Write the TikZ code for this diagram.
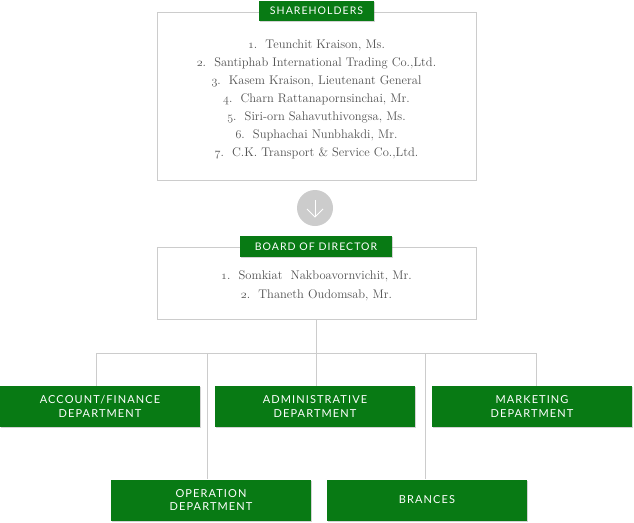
\documentclass[tikz,border=0pt]{standalone}
\usepackage{fontspec}
\newfontfamily\labelfont[LetterSpace=10]{Lato}
\usetikzlibrary{shadows}
\definecolor{boxgreen}{RGB}{8,122,20}
\definecolor{rulegray}{RGB}{204,204,204}
\definecolor{textgray}{RGB}{80,80,80}
\newcommand{\osn}[1]{{\usefont{OML}{cmm}{m}{it}#1}}
\tikzset{
  framebox/.style={draw=rulegray,line width=0.8pt,minimum width=319pt},
  tabbox/.style={fill=boxgreen,text=white,minimum height=20pt,inner sep=0pt,
    font=\labelfont\fontsize{10.5}{11}\selectfont,
    drop shadow={shadow xshift=1pt,shadow yshift=-1pt,opacity=0.35}},
  deptbox/.style={tabbox,minimum width=200pt,minimum height=41pt,align=center,
    font=\labelfont\fontsize{11}{13.5}\selectfont},
  namelist/.style={align=center,text=textgray,font=\fontsize{12.5}{18}\selectfont},
  link/.style={draw=rulegray,line width=0.8pt}
}
\begin{document}
\begin{tikzpicture}[x=1pt,y=-1pt]
  \useasboundingbox (0,0) rectangle (634,522);
  % shareholders
  \node[framebox,minimum height=168pt] (shbox) at (316.5,96) {};
  \node[namelist] (shlist) at (316.5,99) {%
    \osn{1}.\ \ Teunchit Kraison, Ms.\\
    \osn{2}.\ \ Santiphab International Trading Co.,Ltd.\\
    \osn{3}.\ \ Kasem Kraison, Lieutenant General\\
    \osn{4}.\ \ Charn Rattanapornsinchai, Mr.\\
    \osn{5}.\ \ Siri-orn Sahavuthivongsa, Ms.\\
    \osn{6}.\ \ Suphachai Nunbhakdi, Mr.\\
    \osn{7}.\ \ C.K. Transport \& Service Co.,Ltd.};
  \node[tabbox,minimum width=115pt] (shtab) at (316.5,10.5) {SHAREHOLDERS};
  % arrow between the two boxes
  \node[circle,fill=rulegray,minimum size=36pt,inner sep=0pt] (down) at (315,208) {};
  \draw[white,line width=0.9pt] ([yshift=8pt]down.center) -- ([yshift=-9pt]down.center);
  \draw[white,line width=0.9pt] ([xshift=-8pt,yshift=-1pt]down.center)
    -- ([yshift=-9pt]down.center) -- ([xshift=8pt,yshift=-1pt]down.center);
  % board
  \node[framebox,minimum height=72pt] (bdbox) at (316.5,283) {};
  \node[namelist,font=\fontsize{12.5}{19}\selectfont] (bdlist) at (316.5,286) {%
    \osn{1}.\ \ Somkiat\ \ Nakboavornvichit, Mr.\\
    \osn{2}.\ \ Thaneth Oudomsab, Mr.};
  \node[tabbox,minimum width=152pt,minimum height=21pt] (bdtab) at (316,246.5) {BOARD OF DIRECTOR};
  % departments
  \coordinate (bus) at (316,353);
  \coordinate (busL) at (96,353);
  \coordinate (busO) at (207,353);
  \coordinate (busB) at (425,353);
  \coordinate (busR) at (536,353);
  \node[deptbox] (acc) at (100,406.5) {ACCOUNT/FINANCE\\DEPARTMENT};
  \node[deptbox] (adm) at (315,406.5) {ADMINISTRATIVE\\DEPARTMENT};
  \node[deptbox] (mkt) at (532,406.5) {MARKETING\\DEPARTMENT};
  \node[deptbox] (opr) at (211,500) {OPERATION\\DEPARTMENT};
  \node[deptbox] (brn) at (427,500) {BRANCES};
  \draw[link] (bdbox.south -| bus) -- (bus);
  \draw[link] (busL) -- (busR);
  \draw[link] (busL) -- (busL |- acc.north);
  \draw[link] (bus) -- (bus |- adm.north);
  \draw[link] (busR) -- (busR |- mkt.north);
  \draw[link] (busO) -- (busO |- opr.north);
  \draw[link] (busB) -- (busB |- brn.north);
\end{tikzpicture}
\end{document}
